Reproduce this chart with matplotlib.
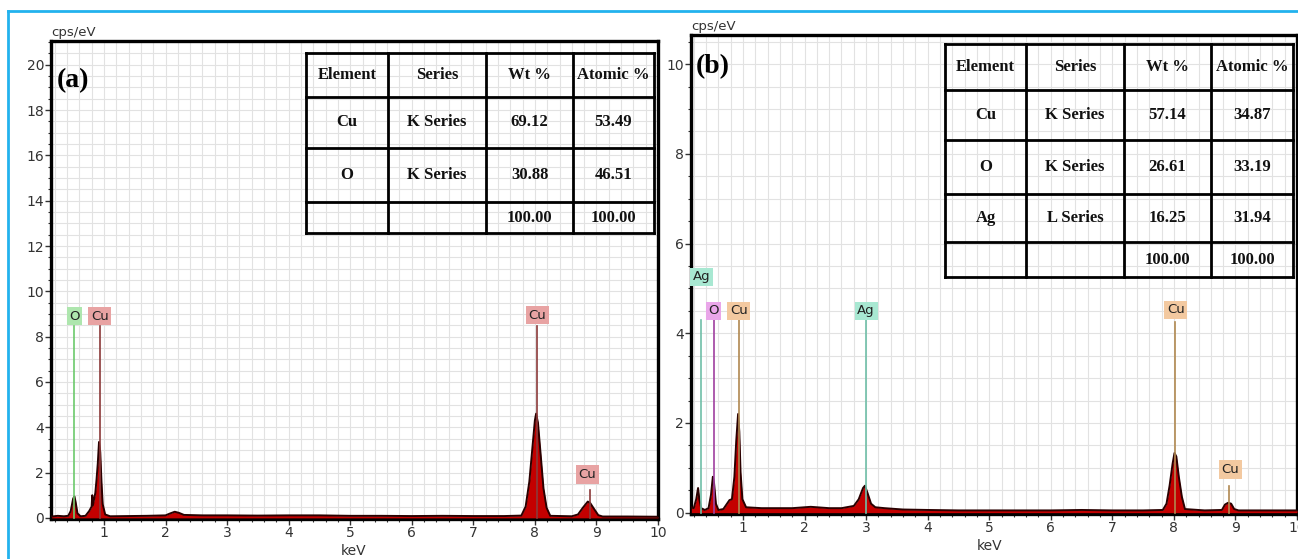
import matplotlib
matplotlib.use("Agg")
import matplotlib.pyplot as plt
from matplotlib.ticker import MultipleLocator
from matplotlib.lines import Line2D

# ---- spectrum (a): CuO ----
kev_a = [0.15, 0.25, 0.35, 0.42, 0.46, 0.50, 0.52, 0.54, 0.57, 0.62, 0.70, 0.76, 0.80, 0.81, 0.82,
         0.86, 0.88, 0.90, 0.92, 0.94, 0.96, 0.98, 1.02, 1.10, 1.40, 1.70, 2.00, 2.08, 2.15, 2.22,
         2.30, 2.60, 3.00, 3.50, 4.00, 4.50, 5.00, 5.50, 6.00, 6.50, 7.00, 7.50, 7.78, 7.85, 7.91,
         7.96, 8.00, 8.02, 8.05, 8.10, 8.14, 8.19, 8.25, 8.60, 8.70, 8.78, 8.86, 8.90, 8.96, 9.03,
         9.10, 9.50, 10.0]
cps_a = [0.06, 0.09, 0.07, 0.09, 0.30, 0.85, 0.95, 0.70, 0.20, 0.07, 0.09, 0.30, 0.50, 1.00, 0.55,
         1.10, 1.70, 2.40, 3.35, 2.90, 1.60, 0.60, 0.15, 0.07, 0.08, 0.09, 0.11, 0.20, 0.27, 0.22,
         0.13, 0.11, 0.11, 0.10, 0.11, 0.11, 0.09, 0.09, 0.08, 0.09, 0.08, 0.08, 0.10, 0.50, 1.60,
         3.10, 4.30, 4.60, 4.20, 2.60, 1.30, 0.45, 0.09, 0.07, 0.15, 0.45, 0.72, 0.65, 0.40, 0.12,
         0.06, 0.06, 0.05]

# ---- spectrum (b): Ag / CuO ----
kev_b = [0.16, 0.20, 0.24, 0.27, 0.29, 0.32, 0.38, 0.44, 0.48, 0.51, 0.53, 0.56, 0.60, 0.68, 0.74,
         0.78, 0.82, 0.86, 0.89, 0.92, 0.94, 0.96, 0.99, 1.05, 1.30, 1.60, 1.80, 2.10, 2.40, 2.60,
         2.80, 2.88, 2.95, 2.98, 3.02, 3.08, 3.15, 3.30, 3.60, 4.00, 4.50, 5.00, 5.50, 6.00, 6.50,
         7.00, 7.50, 7.82, 7.88, 7.93, 7.98, 8.01, 8.04, 8.08, 8.13, 8.18, 8.50, 8.78, 8.83, 8.88,
         8.93, 8.98, 9.05, 9.50, 10.0]
cps_b = [0.12, 0.10, 0.30, 0.55, 0.30, 0.10, 0.06, 0.10, 0.40, 0.80, 0.65, 0.20, 0.06, 0.08, 0.20,
         0.28, 0.30, 0.80, 1.60, 2.20, 1.80, 0.90, 0.30, 0.12, 0.10, 0.10, 0.10, 0.13, 0.10, 0.10,
         0.15, 0.30, 0.55, 0.60, 0.45, 0.20, 0.12, 0.10, 0.07, 0.06, 0.05, 0.05, 0.05, 0.05, 0.06,
         0.05, 0.05, 0.06, 0.20, 0.60, 1.10, 1.33, 1.25, 0.80, 0.35, 0.08, 0.05, 0.06, 0.18, 0.22,
         0.20, 0.08, 0.05, 0.05, 0.05]

# element markers: label, line position, line top, label x, label y
mark_a_el = ["O", "Cu", "Cu", "Cu"]
mark_a_x = [0.52, 0.93, 8.04, 8.90]
mark_a_top = [8.45, 8.45, 8.45, 1.24]
mark_a_lx = [0.52, 0.93, 8.04, 8.85]
mark_a_ly = [8.9, 8.9, 8.95, 1.92]

mark_b_el = ["Ag", "O", "Cu", "Ag", "Cu", "Cu"]
mark_b_x = [0.32, 0.53, 0.93, 2.99, 8.02, 8.89]
mark_b_top = [4.3, 4.3, 4.3, 4.3, 4.24, 0.59]
mark_b_lx = [0.33, 0.52, 0.93, 3.00, 8.03, 8.92]
mark_b_ly = [5.26, 4.5, 4.5, 4.5, 4.52, 0.96]

# tables
cols = ["Element", "Series", "Wt %", "Atomic %"]
tab_a = [["Cu", "K Series", "69.12", "53.49"],
         ["O", "K Series", "30.88", "46.51"],
         ["", "", "100.00", "100.00"]]
tab_b = [["Cu", "K Series", "57.14", "34.87"],
         ["O", "K Series", "26.61", "33.19"],
         ["Ag", "L Series", "16.25", "31.94"],
         ["", "", "100.00", "100.00"]]

line_col = {"O": "#6cc96c", "Cu": "#8b3a3a"}
box_col = {"O": "#aee6ae", "Cu": "#e8a3a3"}
line_col_b = {"O": "#a040a0", "Cu": "#b08850", "Ag": "#6fbfa8"}
box_col_b = {"O": "#e9a6e9", "Cu": "#f3c9a0", "Ag": "#a8e8d2"}

W, H = 1298, 559
fig = plt.figure(figsize=(W / 100, H / 100), dpi=100)


def px_axes(x0, y0, x1, y1):
    # axes from pixel box (top-left origin)
    return fig.add_axes([x0 / W, 1 - y1 / H, (x1 - x0) / W, (y1 - y0) / H])


def setup(ax, xlim, ylim, ymajor):
    ax.set_xlim(*xlim)
    ax.set_ylim(*ylim)
    ax.xaxis.set_major_locator(MultipleLocator(1))
    ax.xaxis.set_minor_locator(MultipleLocator(0.2))
    ax.yaxis.set_major_locator(MultipleLocator(ymajor))
    ax.yaxis.set_minor_locator(MultipleLocator(0.5))
    ax.grid(which="both", color="#e2e2e2", lw=0.8)
    ax.set_axisbelow(True)
    for s in ax.spines.values():
        s.set_linewidth(2.4)
        s.set_color("black")
    ax.tick_params(which="major", length=4, width=1, labelsize=10, colors="#333333", pad=1)
    ax.tick_params(which="minor", length=2, width=0.8, colors="#333333")
    ax.set_xticks(range(1, 11))


def spectrum(ax, kev, cps):
    ax.fill_between(kev, cps, 0, color="#c40000", lw=0, zorder=3)
    ax.plot(kev, cps, color="#2a0000", lw=1.4, zorder=4)


def markers(ax, els, xs, tops, lxs, lys, lc, bc):
    for el, x, t, lx, ly in zip(els, xs, tops, lxs, lys):
        ax.plot([x, x], [0, t], color=lc[el], lw=1.2, zorder=5)
        ax.text(lx, ly, el, ha="center", va="center", fontsize=9.5, color="#222222", zorder=6,
                bbox=dict(boxstyle="square,pad=0.2", fc=bc[el], ec="none"))


def table(xs, ys, rows):
    tx = px_axes(xs[0], ys[0], xs[-1], ys[-1])
    tx.set_xlim(xs[0], xs[-1])
    tx.set_ylim(ys[-1], ys[0])
    tx.axis("off")
    for x in xs:
        tx.plot([x, x], [ys[0], ys[-1]], color="black", lw=2, clip_on=False)
    for y in ys:
        tx.plot([xs[0], xs[-1]], [y, y], color="black", lw=2, clip_on=False)
    data = [cols] + rows
    for r, row in enumerate(data):
        for c, txt in enumerate(row):
            tx.text((xs[c] + xs[c + 1]) / 2, (ys[r] + ys[r + 1]) / 2, txt, ha="center", va="center",
                    fontsize=12, fontweight="bold", family="Liberation Serif", color="#111111")


# panel (a)
ax1 = px_axes(51, 41, 658, 519)
setup(ax1, (0.14, 10), (-0.05, 21.05), 2)
spectrum(ax1, kev_a, cps_a)
markers(ax1, mark_a_el, mark_a_x, mark_a_top, mark_a_lx, mark_a_ly, line_col, box_col)
ax1.text(0.0, 1.005, "cps/eV", transform=ax1.transAxes, fontsize=9.5, color="#333333", va="bottom")
ax1.text(0.23, 19.3, "(a)", fontsize=20, fontweight="bold", family="Liberation Serif", va="center")
ax1.text(5.05, -1.45, "keV", fontsize=10, color="#333333", ha="center", va="center")
table([306, 388, 486, 573, 654], [53, 97, 148, 202, 233], tab_a)

# panel (b)
ax2 = px_axes(691, 35, 1297, 514)
setup(ax2, (0.155, 10), (-0.03, 10.65), 2)
spectrum(ax2, kev_b, cps_b)
markers(ax2, mark_b_el, mark_b_x, mark_b_top, mark_b_lx, mark_b_ly, line_col_b, box_col_b)
ax2.text(0.0, 1.005, "cps/eV", transform=ax2.transAxes, fontsize=9.5, color="#333333", va="bottom")
ax2.text(0.24, 9.95, "(b)", fontsize=20, fontweight="bold", family="Liberation Serif", va="center")
ax2.text(5.0, -0.75, "keV", fontsize=10, color="#333333", ha="center", va="center")
table([945, 1026, 1124, 1211, 1293], [44, 90, 140, 194, 242, 277], tab_b)

# light blue frame
fig.add_artist(Line2D([8 / W, 8 / W], [0, 1 - 11 / H], color="#22b2ee", lw=2))
fig.add_artist(Line2D([8 / W, 1], [1 - 11 / H, 1 - 11 / H], color="#22b2ee", lw=2))

fig.savefig("out.png", dpi=100)
